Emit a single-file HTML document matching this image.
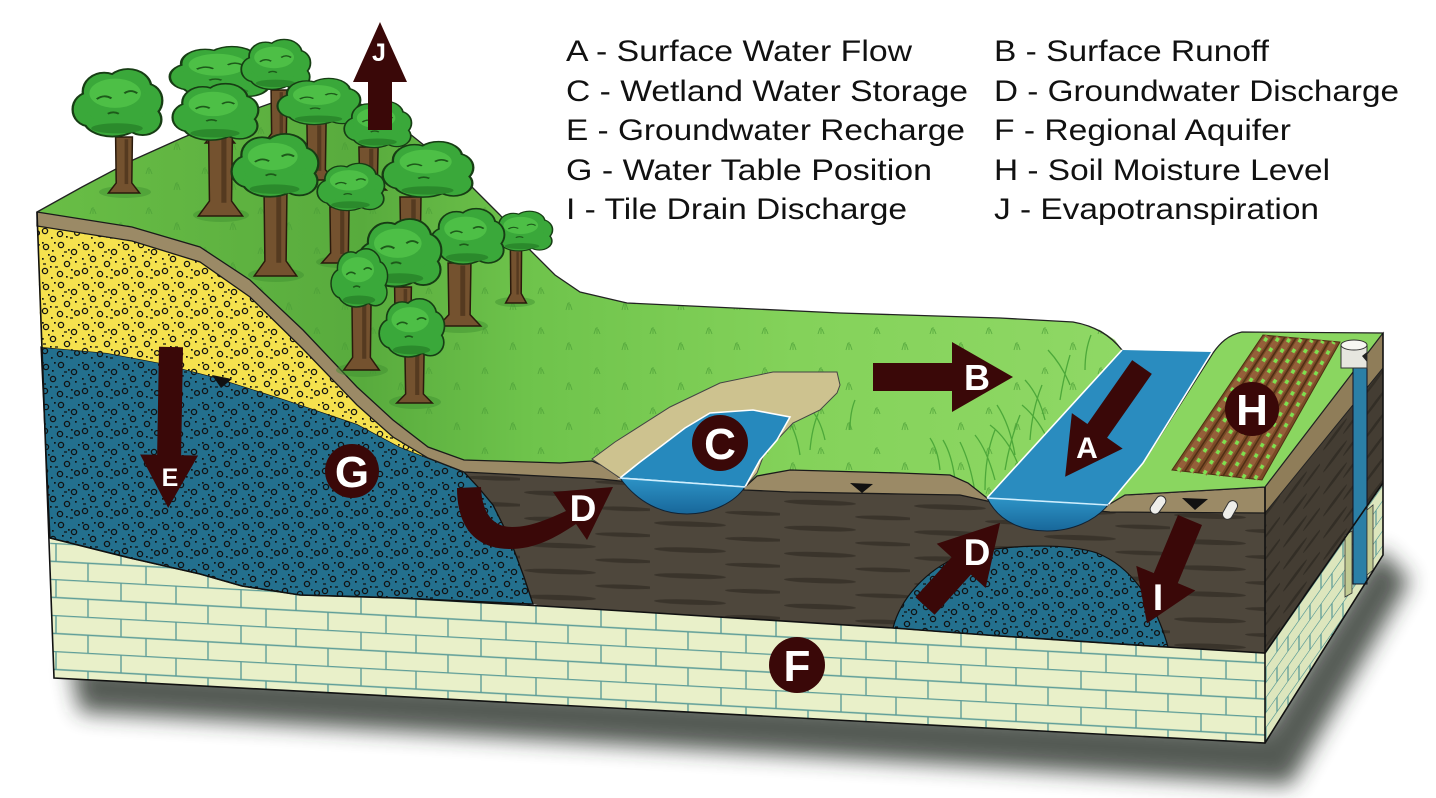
<!DOCTYPE html>
<html><head><meta charset="utf-8">
<style>
html,body{margin:0;padding:0;background:#fff;}
svg{display:block;}
text{font-family:"Liberation Sans",Arial,sans-serif;}
</style></head>
<body>
<svg width="1436" height="798" viewBox="0 0 1436 798" xmlns="http://www.w3.org/2000/svg">
<defs>
 <filter id="blur" x="-10%" y="-30%" width="120%" height="160%"><feGaussianBlur stdDeviation="11"/></filter>
 <pattern id="gravel" width="40" height="40" patternUnits="userSpaceOnUse">
  <g fill="none" stroke="#111" stroke-width="1.3">
   <circle cx="6" cy="7" r="2.6"/><circle cx="21" cy="5" r="2.6"/><circle cx="34" cy="12" r="2.6"/>
   <circle cx="13" cy="19" r="2.6"/><circle cx="27" cy="24" r="2.6"/><circle cx="5" cy="31" r="2.6"/>
   <circle cx="37" cy="33" r="2.4"/><circle cx="20" cy="34" r="2.6"/>
   <path d="M24,12h3M3,24h3M15,27h3M30,38h3"/>
  </g>
  <g fill="#111">
   <rect x="12" y="10" width="1.7" height="1.7"/><rect x="28" y="9" width="1.7" height="1.7"/>
   <rect x="2" y="18" width="1.7" height="1.7"/><rect x="22" y="15" width="1.7" height="1.7"/>
   <rect x="35" y="21" width="1.7" height="1.7"/><rect x="10" y="26" width="1.7" height="1.7"/>
   <rect x="31" y="29" width="1.7" height="1.7"/><rect x="26" y="36" width="1.7" height="1.7"/>
   <rect x="2" y="2" width="1.7" height="1.7"/><rect x="14" y="2" width="1.7" height="1.7"/>
   <rect x="30" y="17" width="1.7" height="1.7"/><rect x="8" y="14" width="1.7" height="1.7"/>
   <rect x="38" y="4" width="1.7" height="1.7"/><rect x="11" y="37" width="1.7" height="1.7"/>
  </g>
 </pattern>
 <pattern id="lime" width="120" height="36" patternUnits="userSpaceOnUse" patternTransform="skewY(3.1)">
  <path d="M0,0.5H120M0,18.5H120M1,0V18.5M56,0V18.5M26,18.5V36M88,18.5V36" stroke="#5e9d98" stroke-width="1.4" fill="none"/>
 </pattern>
 <pattern id="limeR" width="22" height="30" patternUnits="userSpaceOnUse" patternTransform="skewY(-55)">
  <path d="M0,0.5H22M0,15.5H22M1,0V15.5M12,15.5V30" stroke="#5e9d98" stroke-width="1.3" fill="none"/>
 </pattern>
 <pattern id="streak" width="130" height="26" patternUnits="userSpaceOnUse" patternTransform="skewY(2)">
  <ellipse cx="40" cy="6" rx="36" ry="2.6" fill="#3a342b"/>
  <ellipse cx="105" cy="19" rx="30" ry="2.2" fill="#3a342b"/>
 </pattern>
 <pattern id="streakR" width="40" height="22" patternUnits="userSpaceOnUse" patternTransform="skewY(-53)">
  <ellipse cx="15" cy="6" rx="12" ry="2.2" fill="#332e26"/>
  <ellipse cx="32" cy="16" rx="9" ry="1.8" fill="#332e26"/>
 </pattern>
 <pattern id="tuft" width="56" height="40" patternUnits="userSpaceOnUse">
  <path d="M6,30l2,-7M9,30l0,-8M12,30l-2,-6M34,14l2,-6M37,14l0,-7M40,14l-2,-5" stroke="#4b9e37" stroke-width="1" fill="none"/>
 </pattern>
 <linearGradient id="gg" x1="0" y1="0" x2="1" y2="0">
  <stop offset="0" stop-color="#69be46"/><stop offset="0.3" stop-color="#58ab3d"/>
  <stop offset="0.45" stop-color="#6ec34b"/><stop offset="0.7" stop-color="#84d25a"/>
  <stop offset="1" stop-color="#8fd865"/>
 </linearGradient>
 <linearGradient id="wb" x1="0" y1="0" x2="0" y2="1">
  <stop offset="0" stop-color="#2d93c6"/><stop offset="1" stop-color="#18679a"/>
 </linearGradient>
 <symbol id="cn" viewBox="0 0 100 100" preserveAspectRatio="none" style="overflow:visible">
  <g fill="#173d14" stroke="#173d14" stroke-width="5">
   <ellipse cx="20" cy="58" rx="17" ry="22"/><ellipse cx="36" cy="34" rx="22" ry="25"/>
   <ellipse cx="62" cy="28" rx="24" ry="24"/><ellipse cx="82" cy="46" rx="16" ry="22"/>
   <ellipse cx="78" cy="72" rx="19" ry="20"/><ellipse cx="45" cy="72" rx="30" ry="22"/>
   <ellipse cx="50" cy="50" rx="35" ry="30"/>
  </g>
  <g fill="#3aa83a">
   <ellipse cx="20" cy="58" rx="17" ry="22"/><ellipse cx="36" cy="34" rx="22" ry="25"/>
   <ellipse cx="62" cy="28" rx="24" ry="24"/><ellipse cx="82" cy="46" rx="16" ry="22"/>
   <ellipse cx="78" cy="72" rx="19" ry="20"/><ellipse cx="45" cy="72" rx="30" ry="22"/>
   <ellipse cx="50" cy="50" rx="35" ry="30"/>
  </g>
  <ellipse cx="50" cy="84" rx="28" ry="7" fill="#2b8a2c"/>
  <ellipse cx="48" cy="36" rx="28" ry="20" fill="#4dbf46"/>
  <path d="M28,44q8,-7 16,-1M58,36q7,-6 14,0M40,64q6,-4 12,0" stroke="#1d5a1a" stroke-width="2.5" fill="none"/>
 </symbol>
 <symbol id="tr" viewBox="0 0 30 100" preserveAspectRatio="none" style="overflow:visible">
  <path d="M8,0L22,0L21.5,82L28,100L2,100L8.5,82Z" fill="#74522f" stroke="#2a1a0c" stroke-width="1.5" vector-effect="non-scaling-stroke"/>
  <path d="M17,4L17,84" stroke="#553a20" stroke-width="3"/>
 </symbol>
</defs>

<!-- shadow -->
<polygon points="70,662 1265,728 1378,548 1410,580 1290,785 80,712" fill="#2c332c" opacity="0.8" filter="url(#blur)"/>

<!-- limestone front -->
<path d="M50,538L130,558L200,574L242,586L300,595L400,598L542,606L640,612L893,628L1000,636L1150,646L1265,653L1265,743L54,678Z" fill="#e9f0c9"/>
<path d="M50,538L130,558L200,574L242,586L300,595L400,598L542,606L640,612L893,628L1000,636L1150,646L1265,653L1265,743L54,678Z" fill="url(#lime)"/>
<!-- right face -->
<path d="M1265,653L1383,483L1383,555L1265,743Z" fill="#dde6bd"/>
<path d="M1265,653L1383,483L1383,555L1265,743Z" fill="url(#limeR)"/>
<path d="M1265,513L1383,368L1383,483L1265,653Z" fill="#443d33"/>
<path d="M1265,513L1383,368L1383,483L1265,653Z" fill="url(#streakR)"/>
<path d="M1265,487L1383,333L1383,368L1265,513Z" fill="#8f7d59" stroke="#222" stroke-width="1"/>

<!-- dark brown front -->
<path d="M455,466L600,470L760,480L985,490L1110,500L1265,480L1265,653L1150,646L1000,636L893,628L640,612L542,606L533,604L470,600Z" fill="#4e473c"/>
<path d="M455,466L600,470L760,480L985,490L1110,500L1265,480L1265,653L1150,646L1000,636L893,628L640,612L542,606L533,604L470,600Z" fill="url(#streak)"/>

<!-- blue lens -->
<path d="M893,628C900,600 925,570 960,556C1000,545 1063,542 1097,553C1130,566 1155,600 1168,647L1150,646L1000,636Z" fill="#23708e" stroke="#111" stroke-width="1.2"/>
<path d="M893,628C900,600 925,570 960,556C1000,545 1063,542 1097,553C1130,566 1155,600 1168,647L1150,646L1000,636Z" fill="url(#gravel)"/>

<!-- blue left -->
<path d="M41,347L107,353L160,363L214,377L286,400L357,424L400,447L428,458L464,472L478,487L493,505L503,525L514,550L524,577L533,604L400,598L300,595L242,586L200,574L130,558L50,538Z" fill="#23708e" stroke="#111" stroke-width="1.3"/>
<path d="M41,347L107,353L160,363L214,377L286,400L357,424L400,447L428,458L464,472L478,487L493,505L503,525L514,550L524,577L533,604L400,598L300,595L242,586L200,574L130,558L50,538Z" fill="url(#gravel)"/>

<!-- yellow -->
<path d="M37,226L132,241L200,262L250,297L303,349L357,405L393,437L428,458L400,447L357,424L286,400L214,377L160,363L107,353L41,347Z" fill="#f5e14e"/>
<path d="M37,226L132,241L200,262L250,297L303,349L357,405L393,437L428,458L400,447L357,424L286,400L214,377L160,363L107,353L41,347Z" fill="url(#gravel)"/>

<!-- grass main -->
<path d="M37,212L132,227L200,247L250,280L303,330L357,387L393,420L428,447L464,460L560,463L592,461L606,467L620,478L745,487L757,476L790,470L900,473L950,475L968,483L987,498L1122,350L1115,340L1100,330L1073,322L1000,318L840,313L627,303L580,292L555,275L530,250L500,215L470,185L430,150L380,110L330,95L280,100L230,118L182,138L133,160L82,187Z" fill="url(#gg)"/>
<path d="M37,212L132,227L200,247L250,280L303,330L357,387L393,420L428,447L464,460L560,463L592,461L606,467L620,478L745,487L757,476L790,470L900,473L950,475L968,483L987,498L1122,350L1115,340L1100,330L1073,322L1000,318L840,313L627,303L580,292L555,275L530,250L500,215L470,185L430,150L380,110L330,95L280,100L230,118L182,138L133,160L82,187Z" fill="url(#tuft)" opacity="0.7"/>
<path d="M37,212L82,187L133,160L182,138L230,118L280,100L330,95L380,110L430,150L470,185L500,215L530,250L555,275L580,292L627,303L840,313L1000,318L1073,322C1095,326 1110,335 1122,350" fill="none" stroke="#222" stroke-width="1.3"/>

<!-- tall grass near ditch -->
<g stroke="#4da83a" stroke-width="1.3" fill="none">
 <path d="M975,492q-5,-30 -15,-50M985,490q0,-35 10,-60M995,480q-8,-30 -20,-45M1005,470q5,-30 15,-55M1015,455q-5,-30 -18,-50M1030,440q2,-30 12,-55M1045,420q-6,-25 -20,-40M1060,400q4,-25 10,-45M1070,385q-8,-20 -22,-35M1085,370q0,-20 6,-35M955,480q-3,-25 -12,-40M940,470q-2,-20 -10,-32M1020,470q-10,-30 -30,-45M1050,445q-10,-25 -28,-40"/>
 <path d="M800,455q-3,-20 -10,-32M810,450q2,-22 8,-36M825,440q-4,-18 -12,-28M850,430q0,-18 5,-30"/>
</g>

<!-- soil band front -->
<path d="M37,212L132,227L200,247L250,280L303,330L357,387L393,420L428,447L464,460L560,463L592,461L606,467L620,478L745,487L757,476L790,470L900,473L950,475L968,483L987,498L1108,505L1125,495L1265,487L1265,513L1110,512L987,501L960,495L900,494L790,492L745,490L620,481L600,479L560,477L464,472L428,458L393,437L357,405L303,349L250,297L200,262L132,241L37,226Z" fill="#9b8a66" stroke="#1a1a1a" stroke-width="1.3"/>

<!-- tree shadows -->
<g fill="#3f8f30" opacity="0.45">
 <ellipse cx="125" cy="192" rx="26" ry="6"/><ellipse cx="221" cy="215" rx="28" ry="7"/>
 <ellipse cx="276" cy="275" rx="28" ry="7"/><ellipse cx="340" cy="262" rx="24" ry="6"/>
 <ellipse cx="410" cy="256" rx="24" ry="6"/><ellipse cx="460" cy="326" rx="28" ry="7"/>
 <ellipse cx="404" cy="336" rx="24" ry="6"/><ellipse cx="515" cy="302" rx="20" ry="5"/>
 <ellipse cx="362" cy="370" rx="26" ry="7"/><ellipse cx="415" cy="402" rx="26" ry="7"/>
</g>

<!-- trees -->
<use href="#tr" x="203" y="95" width="34" height="48"/>
<use href="#cn" x="168" y="45" width="103" height="55"/>
<use href="#tr" x="262" y="90" width="34" height="53"/>
<use href="#cn" x="240" y="38" width="71" height="54"/>
<use href="#tr" x="106" y="137" width="36" height="56"/>
<use href="#cn" x="71" y="67" width="92" height="73"/>
<use href="#tr" x="296" y="123" width="41" height="57"/>
<use href="#cn" x="276" y="77" width="85" height="50"/>
<use href="#tr" x="348" y="147" width="41" height="43"/>
<use href="#cn" x="343" y="100" width="69" height="50"/>
<use href="#tr" x="195" y="133" width="51" height="83"/>
<use href="#cn" x="171" y="82" width="88" height="61"/>
<use href="#tr" x="388" y="197" width="45" height="59"/>
<use href="#cn" x="381" y="140" width="93" height="60"/>
<use href="#tr" x="319" y="207" width="41" height="56"/>
<use href="#cn" x="316" y="162" width="69" height="51"/>
<use href="#tr" x="251" y="193" width="49" height="83"/>
<use href="#cn" x="230" y="132" width="89" height="68"/>
<use href="#tr" x="504" y="250" width="24" height="53"/>
<use href="#cn" x="491" y="210" width="62" height="43"/>
<use href="#tr" x="435" y="263" width="49" height="63"/>
<use href="#cn" x="429" y="207" width="76" height="60"/>
<use href="#tr" x="385" y="287" width="36" height="49"/>
<use href="#cn" x="357" y="217" width="85" height="73"/>
<use href="#tr" x="341" y="300" width="41" height="70"/>
<use href="#cn" x="330" y="247" width="58" height="63"/>
<use href="#tr" x="394" y="353" width="41" height="50"/>
<use href="#cn" x="378" y="297" width="67" height="63"/>

<!-- wetland -->
<path d="M592,459L615,442L670,407L720,383L773,372L837,372L840,385L837,393L820,410L793,423L777,440L763,457L757,473L745,487L620,478Z" fill="#cdc28f" stroke="#444" stroke-width="1"/>
<path d="M620,478L640,462L660,447L685,428L710,413L753,410L790,417L777,440L760,460L745,487Z" fill="#2689bd" stroke="#fff" stroke-width="1.6"/>
<path d="M620,478C638,503 662,514 687,514C712,514 735,502 745,487Z" fill="url(#wb)" stroke="#123" stroke-width="1"/>
<path d="M620,478L745,487" stroke="#cfefff" stroke-width="1.6"/>

<!-- right section -->
<path d="M1108,505L1143,463L1213,353C1220,343 1228,335 1242,332L1383,333L1265,487L1125,495Z" fill="#8ad660" stroke="#222" stroke-width="1.2"/>
<path d="M1172,470L1262,480L1340,342L1263,335Z" fill="#7a4a26" stroke="#4e2f14" stroke-width="1"/>
<g stroke="#94603a" stroke-width="6" fill="none">
 <path d="M1178,471L1268,336M1191,472L1279,337M1204,474L1290,338M1217,475L1301,339M1230,476L1312,340M1243,478L1323,341M1255,479L1334,342"/>
</g>
<g stroke="#4f2f15" stroke-width="1.5" fill="none">
 <path d="M1185,471L1274,336M1198,473L1285,337M1211,474L1296,338M1223,476L1307,339M1236,477L1318,340M1249,479L1329,341"/>
</g>
<g stroke="#7ee04f" stroke-width="3.5" stroke-dasharray="4 8" fill="none">
 <path d="M1178,471L1268,336M1191,472L1279,337M1204,474L1290,338M1217,475L1301,339M1230,476L1312,340M1243,478L1323,341M1255,479L1334,342"/>
</g>

<!-- ditch -->
<path d="M1122,350L1212,352L1143,463L1108,505L987,498Z" fill="#2a8cbf"/>
<path d="M1122,350L987,498M1212,352L1143,463L1108,505" stroke="#fff" stroke-width="1.6" fill="none"/>
<path d="M987,498C1000,524 1025,531 1047,531C1072,531 1095,521 1108,505Z" fill="url(#wb)" stroke="#123" stroke-width="1"/>
<path d="M987,498L1108,505" stroke="#cfefff" stroke-width="1.6"/>

<!-- well -->
<rect x="1353" y="364" width="14" height="220" fill="#2b7fa6" stroke="#112" stroke-width="1"/>
<polygon points="1345,535 1352,531 1352,593 1345,597" fill="#c2cb94" stroke="#333" stroke-width="0.8"/>
<polygon points="1367,510 1373,505 1373,570 1367,575" fill="#c2cb94" stroke="#333" stroke-width="0.8"/>
<rect x="1341" y="345" width="26" height="23" fill="#e6e6df" stroke="#333" stroke-width="1"/>
<ellipse cx="1354" cy="345" rx="13" ry="5" fill="#f6f6f2" stroke="#333" stroke-width="1"/>
<polygon points="1362,356 1367,352 1367,362" fill="#222"/>

<!-- tile drains & water table markers -->
<g transform="translate(1158,505) rotate(-55)"><rect x="-10" y="-5" width="20" height="10" rx="5" fill="#eeeeea" stroke="#333" stroke-width="1"/></g>
<g transform="translate(1230,510) rotate(-60)"><rect x="-10" y="-5" width="20" height="10" rx="5" fill="#eeeeea" stroke="#333" stroke-width="1"/></g>
<polygon points="1182,498 1208,499 1195,510" fill="#111"/>
<polygon points="850,483 873,484 862,493" fill="#111"/>
<polygon points="212,375 232,379 221,388" fill="#111"/>

<!-- arrows -->
<g fill="#3a0808">
 <g transform="translate(1142,367) rotate(125)"><polygon points="0,-12 78,-12 78,-31 134,0 78,31 78,12 0,12"/></g>
 <g transform="translate(1190,520) rotate(112.6)"><polygon points="0,-13 63,-13 63,-32 112,0 63,32 63,13 0,13"/></g>
 <g transform="translate(925,606) rotate(-47.9)"><polygon points="0,-13 54,-13 54,-33 112,0 54,33 54,13 0,13"/></g>
 <g transform="translate(873,377)"><polygon points="0,-14 79,-14 79,-35 140,0 79,35 79,14 0,14"/></g>
 <g transform="translate(171,347) rotate(91)"><polygon points="0,-12 108,-12 108,-29 161,0 108,29 108,12 0,12"/></g>
 <g transform="translate(380,130) rotate(-90)"><polygon points="0,-12 48,-12 48,-27 108,0 48,27 48,12 0,12"/></g>
 <path d="M457,488L481,487C482,512 492,527 512,527C532,527 550,518 566,511L553,492L613,487L587,540L576,524C555,538 535,549 510,549C478,549 457,530 457,488Z"/>
 <circle cx="352" cy="471" r="27"/>
 <circle cx="720" cy="443" r="28"/>
 <circle cx="1252" cy="409" r="27"/>
 <circle cx="797" cy="665" r="28"/>
</g>
<g fill="#fff" font-weight="bold" text-anchor="middle">
 <text x="977" y="390" font-size="36">B</text>
 <text x="1087" y="458" font-size="30">A</text>
 <text x="583" y="521" font-size="37">D</text>
 <text x="977" y="565" font-size="37">D</text>
 <text x="1158" y="610" font-size="37">I</text>
 <text x="170" y="486" font-size="25">E</text>
 <text x="379" y="61" font-size="25">J</text>
 <text x="352" y="487" font-size="44">G</text>
 <text x="720" y="459" font-size="44">C</text>
 <text x="1252" y="425" font-size="44">H</text>
 <text x="797" y="681" font-size="44">F</text>
</g>

<!-- outlines -->
<g fill="none" stroke="#111" stroke-width="1.6">
 <path d="M37,212L54,678L1265,743L1383,555L1383,333"/>
 <path d="M1265,487L1265,743"/>
 <path d="M50,538L130,558L200,574L242,586L300,595L400,598L542,606L640,612L893,628L1000,636L1150,646L1265,653L1383,483"/>
</g>

<!-- legend -->
<g fill="#111" font-size="30">
 <text x="566" y="61" textLength="346" lengthAdjust="spacingAndGlyphs">A - Surface Water Flow</text>
 <text x="566" y="101" textLength="402" lengthAdjust="spacingAndGlyphs">C - Wetland Water Storage</text>
 <text x="566" y="140" textLength="399" lengthAdjust="spacingAndGlyphs">E - Groundwater Recharge</text>
 <text x="566" y="180" textLength="366" lengthAdjust="spacingAndGlyphs">G - Water Table Position</text>
 <text x="566" y="219" textLength="341" lengthAdjust="spacingAndGlyphs">I - Tile Drain Discharge</text>
 <text x="994" y="61" textLength="275" lengthAdjust="spacingAndGlyphs">B - Surface Runoff</text>
 <text x="994" y="101" textLength="405" lengthAdjust="spacingAndGlyphs">D - Groundwater Discharge</text>
 <text x="994" y="140" textLength="297" lengthAdjust="spacingAndGlyphs">F - Regional Aquifer</text>
 <text x="994" y="180" textLength="336" lengthAdjust="spacingAndGlyphs">H - Soil Moisture Level</text>
 <text x="994" y="219" textLength="325" lengthAdjust="spacingAndGlyphs">J - Evapotranspiration</text>
</g>
</svg>
</body></html>
